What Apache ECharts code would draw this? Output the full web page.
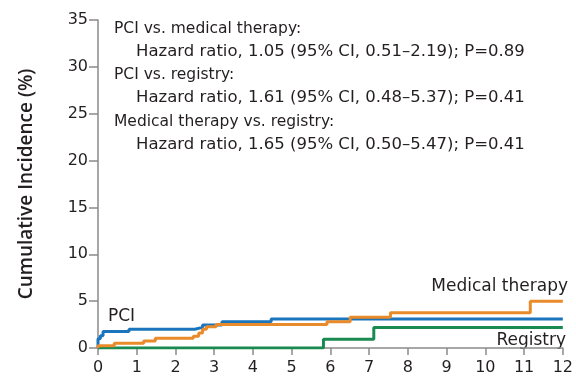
<!DOCTYPE html>
<html>
<head>
<meta charset="utf-8">
<script src="https://cdn.jsdelivr.net/npm/echarts@6/dist/echarts.min.js"></script>
<style>
  html, body { margin: 0; padding: 0; background: #fff; }
  #chart { width: 576px; height: 378px; }
</style>
</head>
<body>
<div id="chart"></div>
<script>
// Cumulative incidence (%) by month, step curves
const pciTimes = [0, 0, 0.06, 0.13, 0.8, 2.5, 2.7, 3.2, 4.47, 12];
const pciValues = [0, 1.0, 1.3, 1.75, 2.0, 2.2, 2.45, 2.8, 3.1, 3.1];

const medTimes = [0, 0, 0.42, 1.18, 1.48, 2.46, 2.6, 2.7, 2.8, 3.05, 5.91, 6.51, 7.55, 11.16, 12];
const medValues = [0, 0.25, 0.5, 0.75, 1.03, 1.25, 1.6, 2.0, 2.27, 2.5, 2.8, 3.27, 3.77, 5.0, 5.0];

const regTimes = [0, 5.82, 7.12, 12];
const regValues = [0, 0.93, 2.2, 2.2];

const xTicks = [0, 1, 2, 3, 4, 5, 6, 7, 8, 9, 10, 11, 12];
const yTicks = [0, 5, 10, 15, 20, 25, 30, 35];

const seriesNames = ['PCI', 'Medical therapy', 'Registry'];
const annotationLines = [
  'PCI vs. medical therapy:',
  'Hazard ratio, 1.05 (95% CI, 0.51\u20132.19); P=0.89',
  'PCI vs. registry:',
  'Hazard ratio, 1.61 (95% CI, 0.48\u20135.37); P=0.41',
  'Medical therapy vs. registry:',
  'Hazard ratio, 1.65 (95% CI, 0.50\u20135.47); P=0.41'
];

const FONT = '"DejaVu Sans", "Noto Sans", sans-serif';
const TITLE_FONT = '"Open Sans", "Noto Sans", sans-serif';
const TEXT = '#231f20';
const AXIS = '#8a8a8a';
const colors = { pci: '#1a75bc', med: '#e98a2b', reg: '#198a50' };

function pairs(xs, ys) { return xs.map((x, i) => [x, ys[i]]); }

const chart = echarts.init(document.getElementById('chart'), null, { renderer: 'canvas' });

const grid = { left: 98, right: 8, top: 20, bottom: 30 };

// Comparison headers flush left, hazard-ratio lines indented below each
const annotationGraphics = annotationLines.map((t, i) => {
  const header = i % 2 === 0;
  return {
    type: 'text',
    left: header ? 114 : 136,
    top: (header ? 20.5 : 19.5) + i * 23.4,
    style: { text: t, fill: TEXT, font: (header ? '15.5px ' : '16.5px ') + FONT }
  };
});

chart.setOption({
  animation: false,
  grid: grid,
  xAxis: {
    type: 'value',
    min: xTicks[0],
    max: xTicks[xTicks.length - 1],
    interval: 1,
    splitLine: { show: false },
    axisLine: { lineStyle: { color: AXIS, width: 1.5 } },
    axisTick: { show: true, length: 7, lineStyle: { color: AXIS, width: 1.5 } },
    axisLabel: { color: TEXT, fontSize: 16, fontFamily: FONT, margin: 12 }
  },
  yAxis: {
    type: 'value',
    min: yTicks[0],
    max: yTicks[yTicks.length - 1],
    interval: 5,
    name: 'Cumulative Incidence (%)',
    nameLocation: 'middle',
    nameRotate: 90,
    nameGap: 62,
    nameTextStyle: { color: TEXT, fontSize: 19, fontFamily: TITLE_FONT, fontWeight: 600 },
    splitLine: { show: false },
    axisLine: { show: true, lineStyle: { color: AXIS, width: 1.5 } },
    axisTick: { show: true, length: 9, lineStyle: { color: AXIS, width: 1.5 } },
    axisLabel: { color: TEXT, fontSize: 16, fontFamily: FONT, margin: 10 }
  },
  series: [
    {
      name: seriesNames[2], type: 'line', step: 'end', symbol: 'none',
      data: pairs(regTimes, regValues),
      lineStyle: { color: colors.reg, width: 3 }, z: 2
    },
    {
      name: seriesNames[0], type: 'line', step: 'end', symbol: 'none',
      data: pairs(pciTimes, pciValues),
      lineStyle: { color: colors.pci, width: 3 }, z: 3
    },
    {
      name: seriesNames[1], type: 'line', step: 'end', symbol: 'none',
      data: pairs(medTimes, medValues),
      lineStyle: { color: colors.med, width: 3 }, z: 4
    }
  ],
  graphic: annotationGraphics.concat([
    { type: 'text', left: 108, top: 308, style: { text: seriesNames[0], fill: TEXT, font: '17px ' + FONT } },
    { type: 'text', right: 8, top: 278, style: { text: seriesNames[1], fill: TEXT, font: '17px ' + FONT } },
    { type: 'text', right: 10, top: 332, style: { text: seriesNames[2], fill: TEXT, font: '17px ' + FONT } }
  ])
});
</script>
</body>
</html>
